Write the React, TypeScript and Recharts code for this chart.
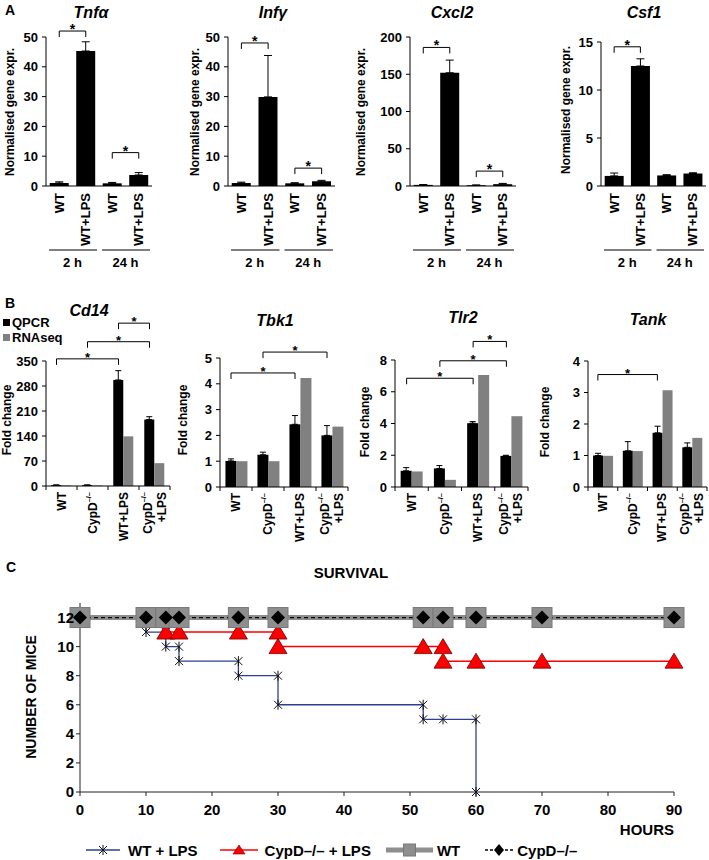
import React from 'react';
import { BarChart, Bar, XAxis, YAxis, ErrorBar, ReferenceLine, LineChart, Line, Legend } from 'recharts';

const FONT = '"Liberation Sans", Arial, Helvetica, sans-serif';

// ---- panel A: normalised gene expression at 2 h / 24 h ----
const aCats = ['WT 2 h', 'WT+LPS 2 h', 'WT 24 h', 'WT+LPS 24 h'];
const aTickLabels = [['WT'], ['WT+LPS'], ['WT'], ['WT+LPS']];
const aGroups = ['2 h', '24 h'];

const tnfMean = [1.0, 45.3, 0.9, 3.7];
const tnfErr = [0.4, 3.1, 0.3, 0.8];
const tnfSig = [['WT 2 h', 'WT+LPS 2 h', 52], ['WT 24 h', 'WT+LPS 24 h', 11.2]];
const tnfTicks = [0, 10, 20, 30, 40, 50];

const infMean = [1.0, 29.9, 0.9, 1.6];
const infErr = [0.3, 13.9, 0.2, 0.3];
const infSig = [['WT 2 h', 'WT+LPS 2 h', 48], ['WT 24 h', 'WT+LPS 24 h', 6]];

const cxclMean = [1.5, 152, 1.0, 2.5];
const cxclErr = [0.5, 17, 0.4, 1.0];
const cxclSig = [['WT 2 h', 'WT+LPS 2 h', 186], ['WT 24 h', 'WT+LPS 24 h', 20]];
const cxclTicks = [0, 50, 100, 150, 200];

const csfMean = [1.05, 12.5, 1.1, 1.3];
const csfErr = [0.3, 0.75, 0.08, 0.08];
const csfSig = [['WT 2 h', 'WT+LPS 2 h', 14.5]];
const csfTicks = [0, 5, 10, 15];

// ---- panel B: QPCR vs RNAseq fold change ----
const bCats = ['WT', 'CypD–/–', 'WT+LPS', 'CypD–/– +LPS'];
const bTickLabels = [['WT'], ['CypD–/–'], ['WT+LPS'], ['CypD–/–', '+LPS']];

const cd14Qpcr = [2.5, 2.5, 297, 186];
const cd14Err = [0.5, 0.5, 26, 8];
const cd14Rna = [1.5, 1.5, 139, 64];
const cd14Sig = [['WT', 'WT+LPS', 356], ['CypD–/–', 'CypD–/– +LPS', 404], ['WT+LPS', 'CypD–/– +LPS', 456]];
const cd14Ticks = [0, 70, 140, 210, 280, 350];

const tbkQpcr = [1.01, 1.25, 2.43, 2.0];
const tbkErr = [0.08, 0.1, 0.34, 0.38];
const tbkRna = [1.0, 1.0, 4.22, 2.34];
const tbkSig = [['WT', 'WT+LPS', 4.42], ['CypD–/–', 'CypD–/– +LPS', 5.23]];
const tbkTicks = [0, 1, 2, 3, 4, 5];

const tlrQpcr = [1.02, 1.17, 4.02, 1.96];
const tlrErr = [0.2, 0.18, 0.1, 0.04];
const tlrRna = [0.98, 0.45, 7.06, 4.46];
const tlrSig = [['WT', 'WT+LPS', 6.85], ['CypD–/–', 'CypD–/– +LPS', 7.95], ['WT+LPS', 'CypD–/– +LPS', 9.17]];
const tlrTicks = [0, 2, 4, 6, 8];

const tankQpcr = [1.0, 1.15, 1.72, 1.26];
const tankErr = [0.07, 0.29, 0.21, 0.14];
const tankRna = [0.99, 1.14, 3.07, 1.56];
const tankSig = [['WT', 'WT+LPS', 3.57]];
const tankTicks = [0, 1, 2, 3, 4];

// ---- panel C: survival ----
const wtLpsHours = [0, 10, 10, 13, 13, 15, 15, 24, 24, 30, 30, 52, 52, 55, 60, 60];
const wtLpsMice = [12, 12, 11, 11, 10, 10, 9, 9, 8, 8, 6, 6, 5, 5, 5, 0];
const cypLpsHours = [0, 13, 13, 15, 24, 30, 30, 52, 55, 55, 60, 70, 90];
const cypLpsMice = [12, 12, 11, 11, 11, 11, 10, 10, 10, 9, 9, 9, 9];
const ctrlHours = [0, 10, 13, 15, 24, 30, 52, 55, 60, 70, 90];
const wtMice = [12, 12, 12, 12, 12, 12, 12, 12, 12, 12, 12];
const cypMice = [12, 12, 12, 12, 12, 12, 12, 12, 12, 12, 12];
const hourTicks = [0, 10, 20, 30, 40, 50, 60, 70, 80, 90];
const miceTicks = [0, 2, 4, 6, 8, 10, 12];
const survivalNames = ['WT + LPS', 'CypD–/– + LPS', 'WT', 'CypD–/–'];

const mk = (cats: string[], q: number[], qe: number[], r?: number[]) =>
  cats.map((cat, i) => ({ cat, q: q[i], qe: [0, qe[i]], r: r ? r[i] : undefined }));
const pts = (h: number[], n: number[]) => h.map((x, i) => ({ h: x, n: n[i] }));

function labelText(t: string, fs: number) {
  if (t.startsWith('CypD')) {
    return [
      <tspan key="a">CypD</tspan>,
      <tspan key="b" fontSize={fs * 0.62} dy={-fs * 0.38}>–/–</tspan>,
    ];
  }
  return t;
}

function CatTick(props: any) {
  const { x, y, index, lines, fs, top, bw, groups, marks } = props;
  const label: string[] = lines[index] || [];
  const shift = label.length > 1 ? [-7, 7] : [0];
  return (
    <g>
      {marks && <line x1={x - bw / 2} x2={x - bw / 2} y1={y} y2={y + 4} stroke="#000" />}
      {marks && index === lines.length - 1 && <line x1={x + bw / 2} x2={x + bw / 2} y1={y} y2={y + 4} stroke="#000" />}
      {label.map((t, i) => (
        <text key={i} transform={`translate(${x + shift[i]},${y + top}) rotate(-90)`} textAnchor="end"
          dominantBaseline="central" fontSize={fs} fontWeight="bold" fill="#000">
          {labelText(t, fs)}
        </text>
      ))}
      {groups && index % 2 === 0 && (
        <g>
          <line x1={x - bw / 2 + 3} x2={x + 1.5 * bw - 2} y1={y + 64} y2={y + 64} stroke="#000" strokeWidth={1} />
          <text x={x + bw / 2} y={y + 76} textAnchor="middle" dominantBaseline="central" fontSize={13} fontWeight="bold" fill="#000">
            {groups[index / 2]}
          </text>
        </g>
      )}
    </g>
  );
}

function Bracket(props: any) {
  const { x1, x2, y1, dx = 0, arm = 6, fs = 14 } = props;
  const a = x1 + dx;
  const b = x2 + dx;
  return (
    <g>
      <path d={`M${a},${y1 + arm}V${y1}H${b}V${y1 + arm}`} stroke="#000" strokeWidth={1} fill="none" />
      <text x={(a + b) / 2} y={y1 + 3} textAnchor="middle" fontSize={fs} fontWeight="bold" fill="#000">*</text>
    </g>
  );
}

function BLegend(props: any) {
  const { payload } = props;
  return (
    <div style={{ fontFamily: FONT, fontWeight: 'bold', fontSize: 13, lineHeight: '15px', color: '#000' }}>
      {(payload || []).map((e: any) => (
        <div key={e.value} style={{ display: 'flex', alignItems: 'center', height: 15 }}>
          <span style={{ display: 'inline-block', width: 7, height: 7, background: e.color, marginRight: 2 }} />
          {e.value}
        </div>
      ))}
    </div>
  );
}

function BarPanel(props: any) {
  const { left, top, plotTop, plotW, plotH, yw, xh, data, max, ticks, sig, lines, groups, paired, dx,
    tickFs, labelFs, labelTop, cap, legend } = props;
  const mt = plotTop - top;
  const right = 6;
  const width = yw + plotW + right;
  const height = mt + plotH + xh;
  const bw = plotW / data.length;
  return (
    <div style={{ position: 'absolute', left: left - yw, top }}>
      <BarChart width={width} height={height} data={data} margin={{ top: mt, right, left: 0, bottom: 0 }}
        barCategoryGap={paired ? '17%' : '14%'} barGap={0}>
        <XAxis dataKey="cat" height={xh} interval={0} tickLine={false} tickSize={0} tickMargin={0}
          axisLine={{ stroke: '#000' }}
          tick={(p: any) => <CatTick {...p} lines={lines} fs={labelFs} top={labelTop} bw={bw} groups={groups} marks={paired} />} />
        <YAxis width={yw} domain={[0, max]} ticks={ticks} interval={0} tickSize={4} tickMargin={4}
          axisLine={{ stroke: '#000' }} tickLine={{ stroke: '#000' }}
          tick={{ fontSize: tickFs, fontWeight: 'bold', fill: '#000' }} />
        <Bar dataKey="q" name="QPCR" fill="#000" isAnimationActive={false}>
          <ErrorBar dataKey="qe" width={cap} stroke="#000" strokeWidth={1} isAnimationActive={false} />
        </Bar>
        {paired && <Bar dataKey="r" name="RNAseq" fill="#808080" isAnimationActive={false} />}
        {sig.map((s: any[], i: number) => (
          <ReferenceLine key={i} segment={[{ x: s[0], y: s[2] }, { x: s[1], y: s[2] }]} ifOverflow="visible"
            shape={(p: any) => <Bracket {...p} dx={dx} fs={paired ? 13 : 14} />} />
        ))}
        {legend && (
          <Legend layout="horizontal" align="center" verticalAlign="middle"
            wrapperStyle={{ top: legend.top, left: legend.left, width: 90 }} content={BLegend} />
        )}
      </BarChart>
    </div>
  );
}

// survival markers
const starDot = (p: any) => {
  const { cx, cy, index, payload } = p;
  if (payload.n === 12) return <g key={`s${index}`} />;
  return (
    <g key={`s${index}`} stroke="#111" strokeWidth={1}>
      <line x1={cx - 4} y1={cy - 4} x2={cx + 4} y2={cy + 4} />
      <line x1={cx - 4} y1={cy + 4} x2={cx + 4} y2={cy - 4} />
      <line x1={cx} y1={cy - 5} x2={cx} y2={cy + 5} />
    </g>
  );
};
const triDot = (p: any) => {
  const { cx, cy, index, payload } = p;
  if (payload.n === 12) return <g key={`t${index}`} />;
  return <path key={`t${index}`} d={`M${cx},${cy - 8}L${cx + 9},${cy + 7}L${cx - 9},${cy + 7}Z`} fill="#ff0000" stroke="#6a0000" strokeWidth={0.8} />;
};
const squareDot = (p: any) => (
  <rect key={`q${p.index}`} x={p.cx - 10} y={p.cy - 10} width={20} height={20} fill="#8e8e8e" stroke="#787878" strokeWidth={1} />
);
const diamondDot = (p: any) => (
  <path key={`d${p.index}`} d={`M${p.cx},${p.cy - 7}L${p.cx + 7},${p.cy}L${p.cx},${p.cy + 7}L${p.cx - 7},${p.cy}Z`} fill="#000" />
);

const legendIcons: Record<string, any> = {
  'WT + LPS': { kind: 'star', w: 34, gap: 8, next: 22 },
  'CypD–/– + LPS': { kind: 'tri', w: 38, gap: 7, next: 15 },
  'WT': { kind: 'sq', w: 47, gap: 4, next: 25 },
  'CypD–/–': { kind: 'dia', w: 28, gap: 4, next: 0 },
};

function LegendIcon({ kind, w, color }: any) {
  const m = w / 2;
  return (
    <svg width={w} height={18} style={{ display: 'block' }}>
      {kind === 'star' && (
        <g>
          <line x1={0} x2={w} y1={9} y2={9} stroke={color} strokeWidth={1.3} />
          <g stroke="#111" strokeWidth={1}>
            <line x1={m - 4} y1={5} x2={m + 4} y2={13} />
            <line x1={m - 4} y1={13} x2={m + 4} y2={5} />
            <line x1={m} y1={4} x2={m} y2={14} />
          </g>
        </g>
      )}
      {kind === 'tri' && (
        <g>
          <line x1={0} x2={w} y1={9} y2={9} stroke={color} strokeWidth={1.5} />
          <path d={`M${m},${4}L${m + 6},${13}L${m - 6},${13}Z`} fill="#ff0000" stroke="#6a0000" strokeWidth={0.6} />
        </g>
      )}
      {kind === 'sq' && (
        <g>
          <line x1={0} x2={w} y1={9} y2={9} stroke={color} strokeWidth={5} />
          <rect x={m - 6} y={3} width={12} height={12} fill="#8e8e8e" stroke="#787878" />
        </g>
      )}
      {kind === 'dia' && (
        <g>
          <line x1={0} x2={w} y1={9} y2={9} stroke="#000" strokeWidth={1.3} strokeDasharray="3 2" />
          <path d={`M${m},3L${m + 5},9L${m},15L${m - 5},9Z`} fill="#000" />
        </g>
      )}
    </svg>
  );
}

function SurvivalLegend(props: any) {
  const items = [...(props.payload || [])].sort(
    (a: any, b: any) => survivalNames.indexOf(a.value) - survivalNames.indexOf(b.value));
  return (
    <div style={{ display: 'flex', alignItems: 'center', fontFamily: FONT, fontWeight: 'bold', fontSize: 15, color: '#000' }}>
      {items.map((e: any) => {
        const ic = legendIcons[e.value];
        return (
          <div key={e.value} style={{ display: 'flex', alignItems: 'center', marginRight: ic.next }}>
            <LegendIcon kind={ic.kind} w={ic.w} color={e.color} />
            <span style={{ marginLeft: ic.gap, whiteSpace: 'nowrap' }}>{e.value}</span>
          </div>
        );
      })}
    </div>
  );
}

function SurvivalChart() {
  const axisTick = { fontSize: 15, fontWeight: 'bold', fill: '#000' };
  return (
    <div style={{ position: 'absolute', left: 35, top: 591 }}>
      <LineChart width={655} height={269} margin={{ top: 12, right: 16, left: 0, bottom: 38 }}>
        <XAxis type="number" dataKey="h" domain={[0, 90]} ticks={hourTicks} interval={0} height={30}
          tickSize={4} tickMargin={8} axisLine={{ stroke: '#222' }} tickLine={{ stroke: '#222' }} tick={axisTick} />
        <YAxis type="number" dataKey="n" domain={[0, 13]} ticks={miceTicks} interval={0} width={45}
          tickSize={4} tickMargin={2} axisLine={{ stroke: '#222' }} tickLine={{ stroke: '#222' }} tick={axisTick} />
        <Line data={pts(wtLpsHours, wtLpsMice)} dataKey="n" name={survivalNames[0]} type="linear" stroke="#2d3f93"
          strokeWidth={1.3} dot={starDot} isAnimationActive={false} />
        <Line data={pts(cypLpsHours, cypLpsMice)} dataKey="n" name={survivalNames[1]} type="linear" stroke="#ff0000"
          strokeWidth={1.5} dot={triDot} isAnimationActive={false} />
        <Line data={pts(ctrlHours, wtMice)} dataKey="n" name={survivalNames[2]} type="linear" stroke="#8e8e8e"
          strokeWidth={5} dot={squareDot} isAnimationActive={false} />
        <Line data={pts(ctrlHours, cypMice)} dataKey="n" name={survivalNames[3]} type="linear" stroke="#000"
          strokeWidth={1.3} strokeDasharray="4 3" dot={diamondDot} isAnimationActive={false} />
        <Legend layout="horizontal" align="center" verticalAlign="middle"
          wrapperStyle={{ top: 250, left: 51, width: 600 }} content={SurvivalLegend} />
      </LineChart>
    </div>
  );
}

const titleStyle = { fontSize: 16, fontWeight: 'bold', fontStyle: 'italic' } as const;

export default function App() {
  return (
    <div style={{ position: 'absolute', left: 0, top: 0, width: 709, height: 860, overflow: 'hidden', background: '#fff', fontFamily: FONT }}>
      {/* A */}
      <BarPanel left={46} top={4} plotTop={37} plotW={106} plotH={149} yw={40} xh={92} data={mk(aCats, tnfMean, tnfErr)}
        max={50} ticks={tnfTicks} sig={tnfSig} lines={aTickLabels} groups={aGroups} dx={0} tickFs={13} labelFs={13} labelTop={7} cap={4} />
      <BarPanel left={228} top={4} plotTop={37} plotW={107} plotH={149} yw={40} xh={92} data={mk(aCats, infMean, infErr)}
        max={50} ticks={tnfTicks} sig={infSig} lines={aTickLabels} groups={aGroups} dx={0} tickFs={13} labelFs={13} labelTop={7} cap={4} />
      <BarPanel left={410} top={4} plotTop={37} plotW={106} plotH={149} yw={40} xh={92} data={mk(aCats, cxclMean, cxclErr)}
        max={200} ticks={cxclTicks} sig={cxclSig} lines={aTickLabels} groups={aGroups} dx={0} tickFs={13} labelFs={13} labelTop={7} cap={4} />
      <BarPanel left={601} top={4} plotTop={42} plotW={105} plotH={144} yw={40} xh={92} data={mk(aCats, csfMean, csfErr)}
        max={15} ticks={csfTicks} sig={csfSig} lines={aTickLabels} groups={aGroups} dx={0} tickFs={13} labelFs={13} labelTop={7} cap={4} />

      {/* B */}
      <BarPanel left={46} top={300} plotTop={361} plotW={124} plotH={125} yw={40} xh={60} data={mk(bCats, cd14Qpcr, cd14Err, cd14Rna)}
        max={350} ticks={cd14Ticks} sig={cd14Sig} lines={bTickLabels} paired dx={-5} tickFs={13} labelFs={12} labelTop={6} cap={3}
        legend={{ top: 15, left: -3 }} />
      <BarPanel left={220} top={300} plotTop={358} plotW={128} plotH={129} yw={40} xh={60} data={mk(bCats, tbkQpcr, tbkErr, tbkRna)}
        max={5} ticks={tbkTicks} sig={tbkSig} lines={bTickLabels} paired dx={-5} tickFs={13} labelFs={12} labelTop={6} cap={3} />
      <BarPanel left={395} top={300} plotTop={360} plotW={133} plotH={127} yw={40} xh={60} data={mk(bCats, tlrQpcr, tlrErr, tlrRna)}
        max={8} ticks={tlrTicks} sig={tlrSig} lines={bTickLabels} paired dx={-5} tickFs={13} labelFs={12} labelTop={6} cap={3} />
      <BarPanel left={588} top={300} plotTop={361} plotW={119} plotH={126} yw={40} xh={60} data={mk(bCats, tankQpcr, tankErr, tankRna)}
        max={4} ticks={tankTicks} sig={tankSig} lines={bTickLabels} paired dx={-5} tickFs={13} labelFs={12} labelTop={6} cap={3} />

      {/* C */}
      <SurvivalChart />

      <svg width={709} height={860} style={{ position: 'absolute', left: 0, top: 0, pointerEvents: 'none' }}>
        <g fontWeight="bold" fill="#000" fontFamily={FONT}>
          <text x={5} y={15} fontSize={14}>A</text>
          <text x={5} y={308} fontSize={14}>B</text>
          <text x={6} y={572} fontSize={14}>C</text>

          <g {...titleStyle} textAnchor="middle" dominantBaseline="central">
            <text x={91} y={12}>Tnfα</text>
            <text x={273} y={12}>Infγ</text>
            <text x={452} y={12}>Cxcl2</text>
            <text x={644} y={12}>Csf1</text>
            <text x={89} y={310}>Cd14</text>
            <text x={275} y={320}>Tbk1</text>
            <text x={463} y={317}>Tlr2</text>
            <text x={648} y={319}>Tank</text>
          </g>

          <g fontSize={12} textAnchor="middle" dominantBaseline="central">
            <text transform="translate(10,112) rotate(-90)">Normalised gene expr.</text>
            <text transform="translate(195,112) rotate(-90)">Normalised gene expr.</text>
            <text transform="translate(361,112) rotate(-90)">Normalised gene expr.</text>
            <text transform="translate(566,110) rotate(-90)">Normalised gene expr.</text>
            <text transform="translate(7,420) rotate(-90)">Fold change</text>
            <text transform="translate(183,420) rotate(-90)">Fold change</text>
            <text transform="translate(365,422) rotate(-90)">Fold change</text>
            <text transform="translate(545,422) rotate(-90)">Fold change</text>
          </g>

          <text x={351} y={572} fontSize={15} textAnchor="middle" dominantBaseline="central">SURVIVAL</text>
          <text transform="translate(31,697) rotate(-90)" fontSize={14} textAnchor="middle" dominantBaseline="central">NUMBER OF MICE</text>
          <text x={674} y={829} fontSize={15} textAnchor="end" dominantBaseline="central">HOURS</text>
        </g>
      </svg>
    </div>
  );
}
